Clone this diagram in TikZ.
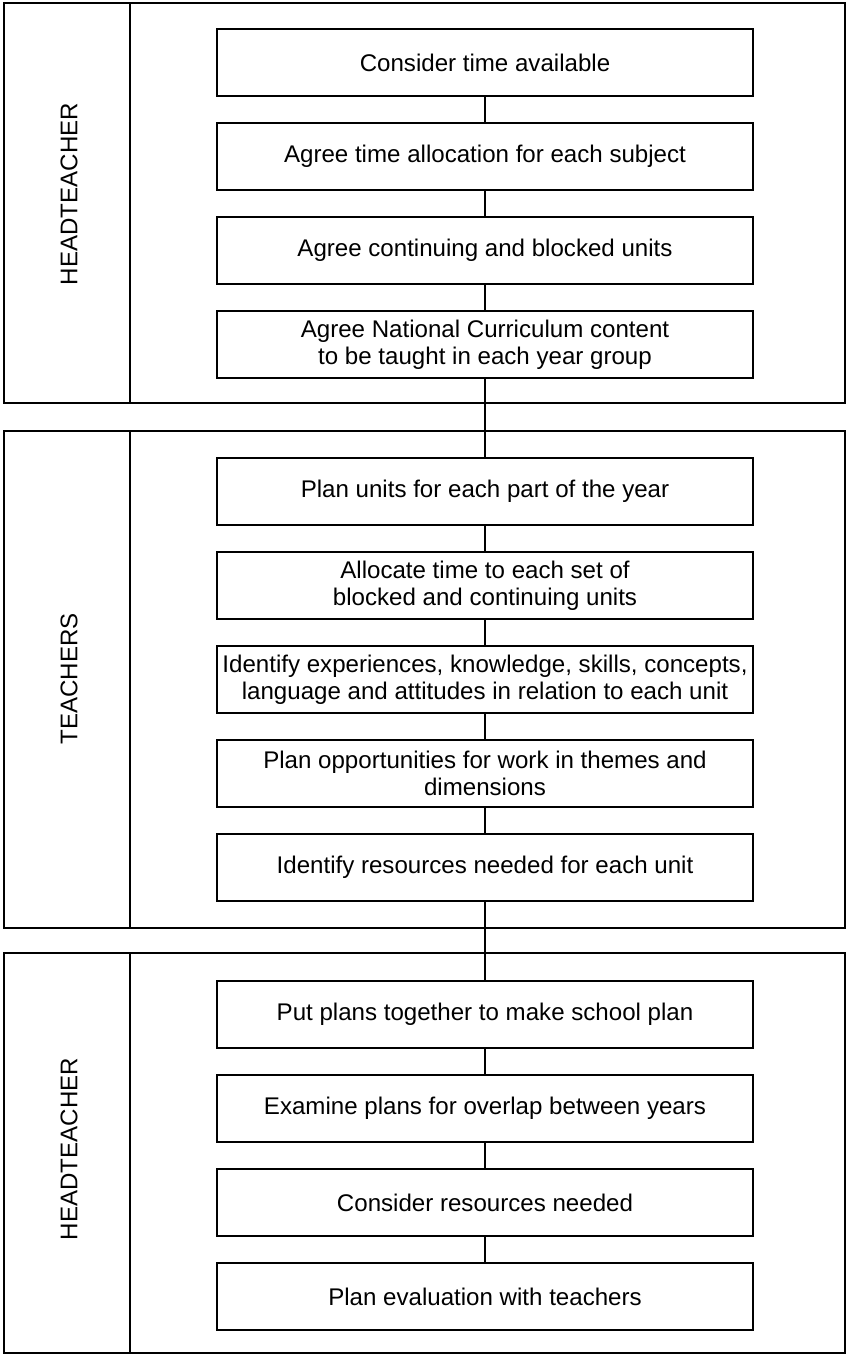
\documentclass[tikz,border=0pt]{standalone}
\usepackage{fontspec}
\setmainfont{Liberation Sans}
\begin{document}
\begin{tikzpicture}[x=1pt,y=-1pt,
  stepbox/.style={draw,line width=2.6pt,minimum width=536pt,minimum height=67pt,
    align=center,inner sep=2pt,font=\fontsize{24.1}{27}\selectfont},
  panel/.style={draw,line width=2.2pt},
  role/.style={rotate=90,font=\fontsize{24.1}{27}\selectfont},
  link/.style={line width=2pt}]
\useasboundingbox[fill=white] (0,0) rectangle (847,1355);

% steps, top to bottom
\node[stepbox] (b1)  at (485,62.5)   {Consider time available};
\node[stepbox] (b2)  at (485,156.5)  {Agree time allocation for each subject};
\node[stepbox] (b3)  at (485,250.5)  {Agree continuing and blocked units};
\node[stepbox] (b4)  at (485,344.5)  {Agree National Curriculum content\\to be taught in each year group};
\node[stepbox] (b5)  at (485,491.5)  {Plan units for each part of the year};
\node[stepbox] (b6)  at (485,585.5)  {Allocate time to each set of\\blocked and continuing units};
\node[stepbox] (b7)  at (485,679.5)  {Identify experiences, knowledge, skills, concepts,\\language and attitudes in relation to each unit};
\node[stepbox] (b8)  at (485,773.5)  {Plan opportunities for work in themes and\\dimensions};
\node[stepbox] (b9)  at (485,867.5)  {Identify resources needed for each unit};
\node[stepbox] (b10) at (485,1014.5) {Put plans together to make school plan};
\node[stepbox] (b11) at (485,1108.5) {Examine plans for overlap between years};
\node[stepbox] (b12) at (485,1202.5) {Consider resources needed};
\node[stepbox] (b13) at (485,1296.5) {Plan evaluation with teachers};

% connectors between consecutive steps
\foreach \a/\b in {b1/b2,b2/b3,b3/b4,b4/b5,b5/b6,b6/b7,b7/b8,b8/b9,b9/b10,b10/b11,b11/b12,b12/b13}
  \draw[link] (\a.south) -- (\b.north);

% role panels with their label columns
\draw[panel] (4,3) rectangle (845,403);
\draw[panel] (130,3) -- (130,403);
\draw[panel] (4,431) rectangle (845,928);
\draw[panel] (130,431) -- (130,928);
\draw[panel] (4,953) rectangle (845,1353);
\draw[panel] (130,953) -- (130,1353);

\node[role] (r1) at (69,194)  {HEADTEACHER};
\node[role] (r2) at (69,679)  {TEACHERS};
\node[role] (r3) at (69,1149) {HEADTEACHER};
\end{tikzpicture}
\end{document}
